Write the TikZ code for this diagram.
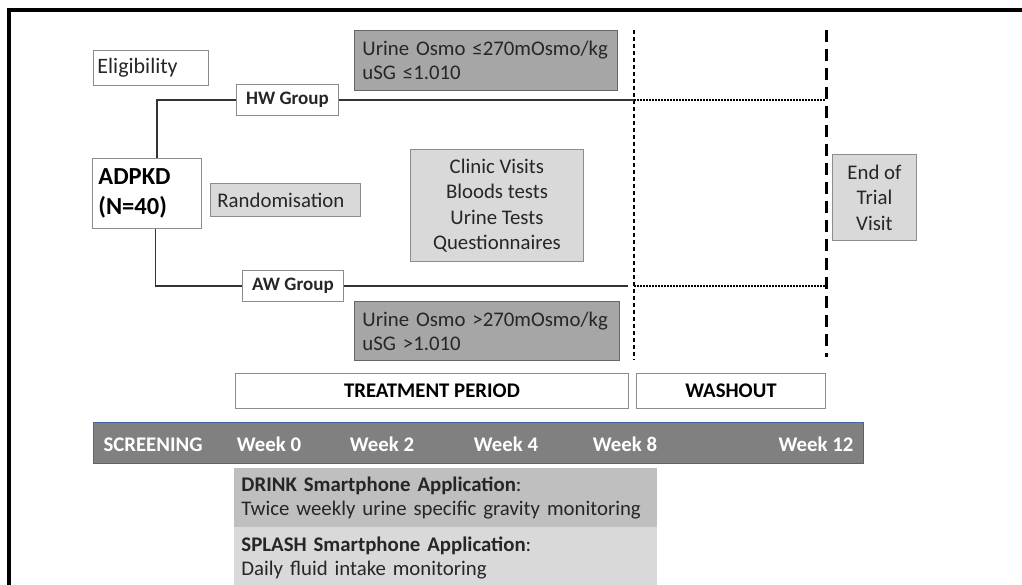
\documentclass[tikz,border=0pt]{standalone}
\usepackage{fontspec}
\setmainfont{Carlito}
\usetikzlibrary{positioning}

\newcommand{\bodysize}{\fontsize{20.8}{24}\selectfont}
\definecolor{barblue}{RGB}{70,100,160}

\tikzset{
  box/.style={draw=black!45, line width=0.9pt, inner sep=0pt, anchor=north west},
  greybox/.style={box, fill=black!15},
  darkbox/.style={box, draw=black!60, fill=black!35},
  groupbox/.style={box, font=\fontsize{19}{22}\selectfont\bfseries, minimum width=102, minimum height=31},
  link/.style={line width=1.6pt, black!80},
  dotline/.style={line width=1.9pt, dash pattern=on 1.5pt off 1.5pt},
  weeklbl/.style={text=white, font=\bodysize\bfseries, anchor=base},
}

\begin{document}
\begin{tikzpicture}[x=1pt, y=-1pt, font=\bodysize, text=black!85]
    \useasboundingbox (0,0) rectangle (1022,585);
    % frame
    \draw[line width=3.5pt] (9,590) -- (9,10) -- (1030,10);

    % left part
    \node[box, text width=107, inner xsep=4, minimum height=35, align=left,
          font=\fontsize{22}{24}\selectfont] (elig) at (93,50) {Eligibility};
    \node[box, text width=97, inner xsep=6, minimum height=70, align=left, text=black,
          font=\fontsize{24.5}{30}\selectfont\bfseries] (adpkd) at (92,158) {ADPKD\\(N=40)};
    \node[greybox, text width=136, inner xsep=7, minimum height=33, align=left] (rand) at (210,183) {Randomisation};
    \node[groupbox] (hw) at (236,84) {HW Group};
    \node[groupbox, minimum width=101] (aw) at (242,270) {AW Group};

    % targets and visits
    \node[darkbox, text width=247, inner xsep=8, minimum height=60, align=left] (osmohi) at (354,30)
        {Urine Osmo ≤270mOsmo/kg\\uSG ≤1.010};
    \node[darkbox, text width=249, inner xsep=8, minimum height=59, align=left] (osmolo) at (354,301)
        {Urine Osmo >270mOsmo/kg\\uSG >1.010};
    \node[greybox, minimum width=173, minimum height=112, align=center,
          font=\fontsize{20.8}{25.5}\selectfont] (clinic) at (410,149)
        {Clinic Visits\\Bloods tests\\Urine Tests\\Questionnaires};
    \node[greybox, minimum width=84, minimum height=86, align=center,
          font=\fontsize{20.8}{25.5}\selectfont] (endvisit) at (832,154)
        {End of\\Trial\\Visit};

    % week 8 and week 12 markers
    \coordinate (w8top) at (634,30);
    \coordinate (w8bot) at (634,360);
    \coordinate (endtop) at (826,30);
    \coordinate (endbot) at (826,357);
    \draw[line width=1.2pt, dash pattern=on 4pt off 3pt] (w8top) -- (w8bot);
    \draw[line width=3pt, dash pattern=on 12pt off 7pt] (endtop) -- (endbot);

    % arms
    \draw[link] ([xshift=10]adpkd.north) |- (hw.west);
    \draw[link] ([xshift=8.5]adpkd.south) |- (aw.west);
    \draw[link] (hw.east) -- (hw.east -| w8top);
    \draw[dotline] (hw.east -| w8top) -- (hw.east -| endtop);
    \draw[link] (aw.east) -- ([xshift=-6]aw.east -| w8top);
    \draw[dotline] (aw.east -| w8top) -- (aw.east -| endtop);

    % periods
    \node[box, minimum width=393, minimum height=35, text=black, font=\bodysize\bfseries] (treat) at (235,373) {TREATMENT PERIOD};
    \node[box, minimum width=189, minimum height=35, text=black, font=\bodysize\bfseries] (wash) at (636,373) {WASHOUT};

    % timeline
    \node[box, draw=barblue, line width=1.2pt, fill=black!50, minimum width=770, minimum height=41] (bar) at (93,422) {};
    \node[weeklbl, anchor=base west] (scr) at (100,451) {SCREENING};
    \foreach \x/\wk in {269/0, 382/2, 506/4, 625/8, 816/12}
        \node[weeklbl] (wk\wk) at (\x,451) {Week \wk};

    % apps
    \node[box, draw=none, fill=black!25, text width=409, inner xsep=7, minimum height=59, align=left] (drink) at (234,468)
        {\textbf{DRINK Smartphone Application}:\\Twice weekly urine specific gravity monitoring};
    \node[box, draw=none, fill=black!15, text width=409, inner xsep=7, minimum height=62, align=left] (splash) at (234,527)
        {\textbf{SPLASH Smartphone Application}:\\Daily fluid intake monitoring\\[3pt]};
\end{tikzpicture}
\end{document}
